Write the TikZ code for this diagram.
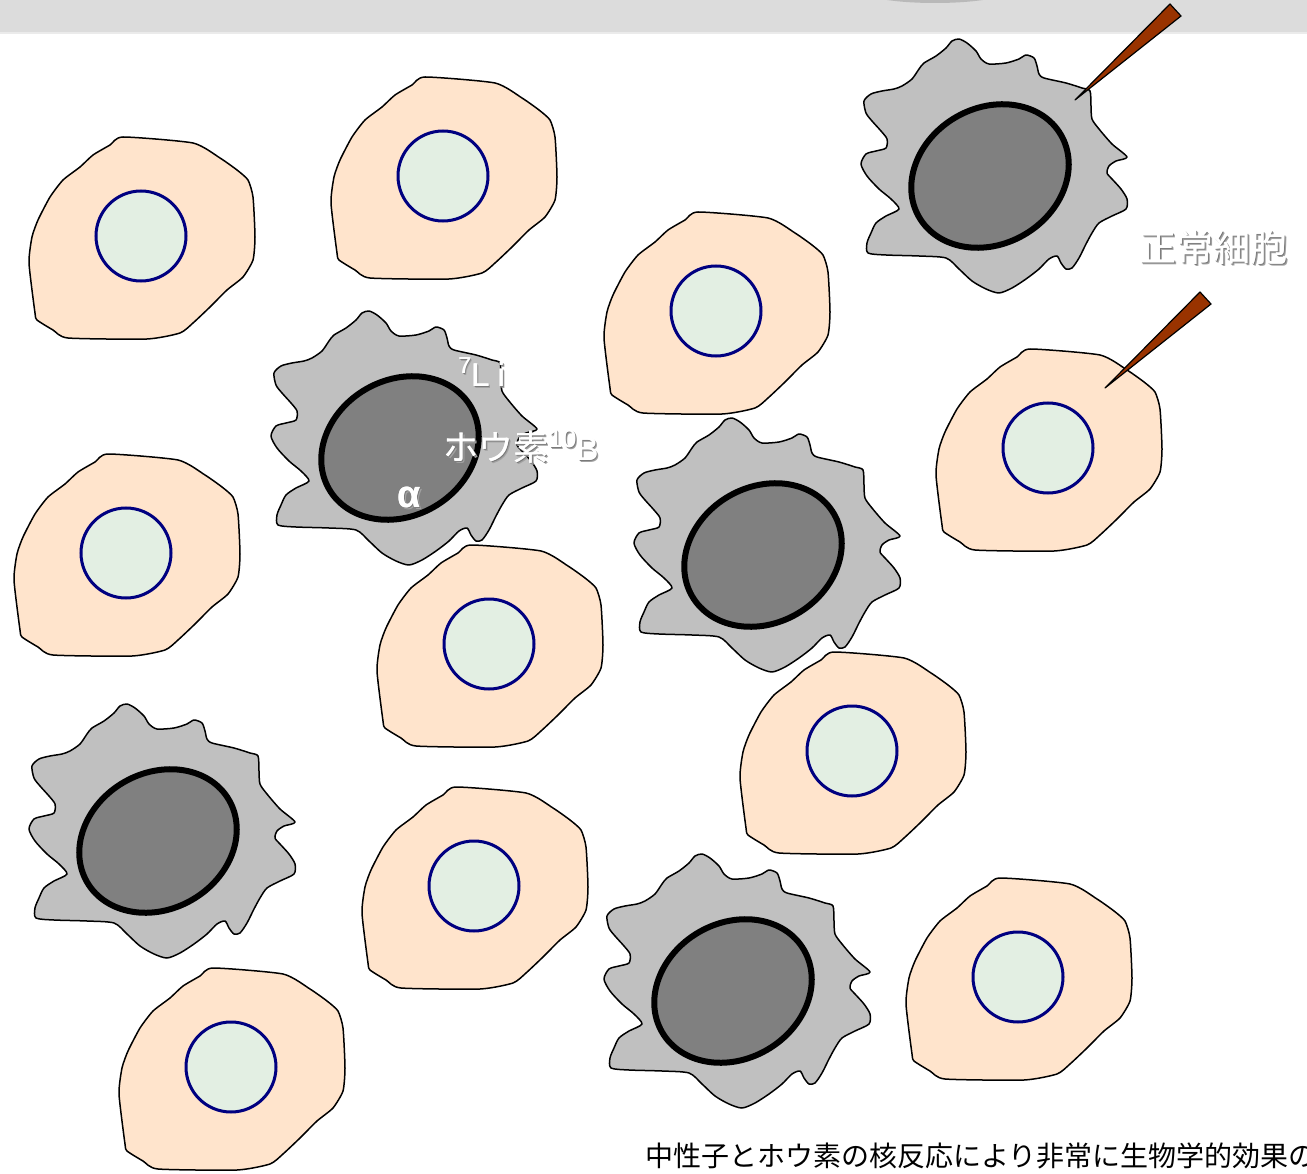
\documentclass[tikz,border=0pt]{standalone}
\usepackage{fontspec}
\setmainfont{Liberation Sans}
\newfontfamily\jpfont{Noto Sans CJK JP}

\definecolor{cytoplasm}{HTML}{FFE4CC}
\definecolor{nucleusfill}{HTML}{E3EFE3}
\definecolor{nucleusline}{HTML}{000080}
\definecolor{tumorfill}{HTML}{C0C0C0}
\definecolor{tumornucleus}{HTML}{808080}
\definecolor{needlebrown}{HTML}{993300}
\definecolor{barfill}{HTML}{DCDCDC}
\definecolor{barshade}{HTML}{B9B9B9}
\definecolor{shadowgray}{HTML}{7A7A7A}

% white lettering with a soft grey drop shadow
\newcommand{\embossed}[1]{%
  \makebox[0pt][l]{\kern2pt\raisebox{-2pt}{\color{shadowgray!70}#1}}%
  \makebox[0pt][l]{\kern1.2pt\raisebox{-1.2pt}{\color{shadowgray}#1}}%
  \makebox[0pt][l]{\kern0.6pt{\color{white}#1}}{\color{white}#1}}

\tikzset{
  cell line/.style={draw=black, line width=1.5pt, line join=round},
  normal cell/.pic={
    \draw[cell line, fill=cytoplasm] plot[smooth cycle, tension=0.35] coordinates {
      (-18,-99) (52,-93) (79,-78) (96,-66) (107,-56) (112,-39) (114,1)
      (112,24) (102,41) (86,54) (69,71) (52,87) (39,97) (6,103)
      (-73,102) (-88,94) (-104,84) (-106,77) (-112,27) (-109,1)
      (-103,-16) (-91,-39) (-78,-56) (-61,-69) (-48,-81) (-31,-91)};
    \draw[draw=nucleusline, line width=3pt, fill=nucleusfill] (0,0) circle (45);
  },
  tumor cell/.pic={
    \draw[cell line, fill=tumorfill] plot[smooth cycle, tension=0.45] coordinates {
      (-38,-135) (-31,-137) (-23,-133) (-14,-125) (-9,-117) (-1,-112)
      (16,-113) (29,-117) (36,-121) (44,-118) (47,-110) (49,-102)
      (54,-98) (76,-93) (92,-88) (100,-85) (101,-70) (102,-57)
      (109,-47) (122,-32) (137,-19) (126,-15) (119,-10) (117,-3)
      (122,3) (131,13) (137,23) (136,33) (122,40) (109,47) (102,57)
      (96,68) (89,82) (82,92) (76,93) (71,87) (67,80) (59,83)
      (49,93) (36,103) (22,112) (9,117) (-4,113) (-18,105) (-31,93)
      (-44,82) (-71,80) (-104,79) (-122,77) (-123,67) (-119,57)
      (-114,47) (-104,40) (-91,33) (-99,23) (-111,13) (-123,0)
      (-129,-12) (-124,-22) (-114,-25) (-104,-28) (-103,-37)
      (-109,-45) (-118,-55) (-124,-63) (-126,-75) (-119,-82)
      (-108,-85) (-96,-87) (-88,-90) (-78,-97) (-71,-107) (-66,-113)
      (-54,-120) (-44,-128)};
    \draw[draw=black, line width=6pt, fill=tumornucleus, rotate=30]
      (0,0) ellipse [x radius=82, y radius=68];
  },
  needle/.style={draw=black, line width=1.2pt, fill=needlebrown, line join=round},
  label/.style={inner sep=0pt},
}

\begin{document}
\begin{tikzpicture}[x=1pt, y=-1pt]
    \useasboundingbox (0,0) rectangle (1307,1174);

    % Title bar
    \fill[barfill] (0,0) rectangle (1307,32);
    \begin{scope}
        \clip (0,0) rectangle (1307,32);
        \fill[barshade] (935,-10) ellipse [x radius=75, y radius=13];
    \end{scope}
    \draw[white!92!black, line width=1.5pt] (0,33) -- (1307,33);

    % Tumour cells
    \pic at (400,448) {tumor cell};
    \pic at (763,555) {tumor cell};
    \pic at (158,841) {tumor cell};
    \pic at (733,991) {tumor cell};
    \pic at (990,176) {tumor cell};

    % Normal cells
    \pic at (141,236) {normal cell};
    \pic at (443,176) {normal cell};
    \pic at (716,311) {normal cell};
    \pic at (1048,448) {normal cell};
    \pic at (126,553) {normal cell};
    \pic at (489,644) {normal cell};
    \pic at (852,751) {normal cell};
    \pic at (474,886) {normal cell};
    \pic at (1018,977) {normal cell};
    \pic at (231,1067) {normal cell};

    % Needles
    \draw[needle] (1170,4) -- (1181,16) -- (1075,100) -- cycle;
    \draw[needle] (1200,292) -- (1211,304) -- (1105,388) -- cycle;

    % Labels
    \node[label, anchor=west, font=\jpfont\fontsize{37}{37}\selectfont] (normal) at (1139,248)
        {\embossed{正常細胞}};
    \node[label, anchor=base west, font=\fontsize{33}{33}\selectfont] (lithium) at (458,386)
        {\embossed{\raisebox{13pt}{\fontsize{23}{23}\selectfont 7}L\kern8pt i}};
    \node[label, anchor=base west, font=\fontsize{33}{33}\selectfont] (boron) at (443,460)
        {\embossed{{\jpfont\fontsize{35}{35}\selectfont ホウ素}\raisebox{13pt}{\fontsize{25}{25}\selectfont 10}B}};
    \node[label, anchor=base west, font=\bfseries\fontsize{38}{38}\selectfont] (alpha) at (397,507)
        {\embossed{α}};

    % Caption
    \node[label, anchor=base west, font=\jpfont\fontsize{28}{28}\selectfont] (caption) at (645,1166)
        {中性子とホウ素の核反応により非常に生物学的効果の};
\end{tikzpicture}
\end{document}
